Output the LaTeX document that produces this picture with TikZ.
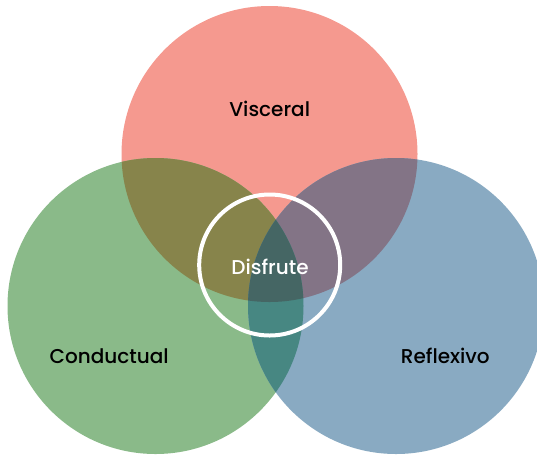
\documentclass[tikz,border=0pt]{standalone}
\usepackage{fontspec}
\setmainfont{Poppins Medium}
\usepackage{tikz}

\definecolor{viscol}{HTML}{F5998F}
\definecolor{concol}{HTML}{8ABA89}
\definecolor{refcol}{HTML}{89AAC2}
\definecolor{viscon}{HTML}{87844B}
\definecolor{visref}{HTML}{837486}
\definecolor{conref}{HTML}{478782}
\definecolor{allcol}{HTML}{456664}

\begin{document}
\begin{tikzpicture}[
      x=1pt, y=-1pt,
      set/.style={radius=148},
      label/.style={anchor=base, font=\fontsize{20}{24}\selectfont, text=black},
      ring/.style={circle, draw=white, line width=4pt, minimum size=141pt, inner sep=0pt}
    ]
        \useasboundingbox (0,0) rectangle (537,459);
        \coordinate (vis) at (269.5,154);
        \coordinate (con) at (155.5,306);
        \coordinate (ref) at (396,306);

        % the three sets
        \fill[viscol] (vis) circle[set];
        \fill[concol] (con) circle[set];
        \fill[refcol] (ref) circle[set];

        % overlaps
        \begin{scope}
            \clip (vis) circle[set];
            \fill[viscon] (con) circle[set];
            \fill[visref] (ref) circle[set];
        \end{scope}
        \begin{scope}
            \clip (con) circle[set];
            \fill[conref] (ref) circle[set];
            \clip (vis) circle[set];
            \fill[allcol] (ref) circle[set];
        \end{scope}

        \node[ring] (core) at (269.7,265) {};

        \node[label] (tvis) at (269.7,116.7) {Visceral};
        \node[label] (tcon) at (109.2,363.3) {Conductual};
        \node[label] (tref) at (445.3,363.3) {Reflexivo};
        \node[label, text=white] (tcore) at (270,274) {Disfrute};
    \end{tikzpicture}
\end{document}
